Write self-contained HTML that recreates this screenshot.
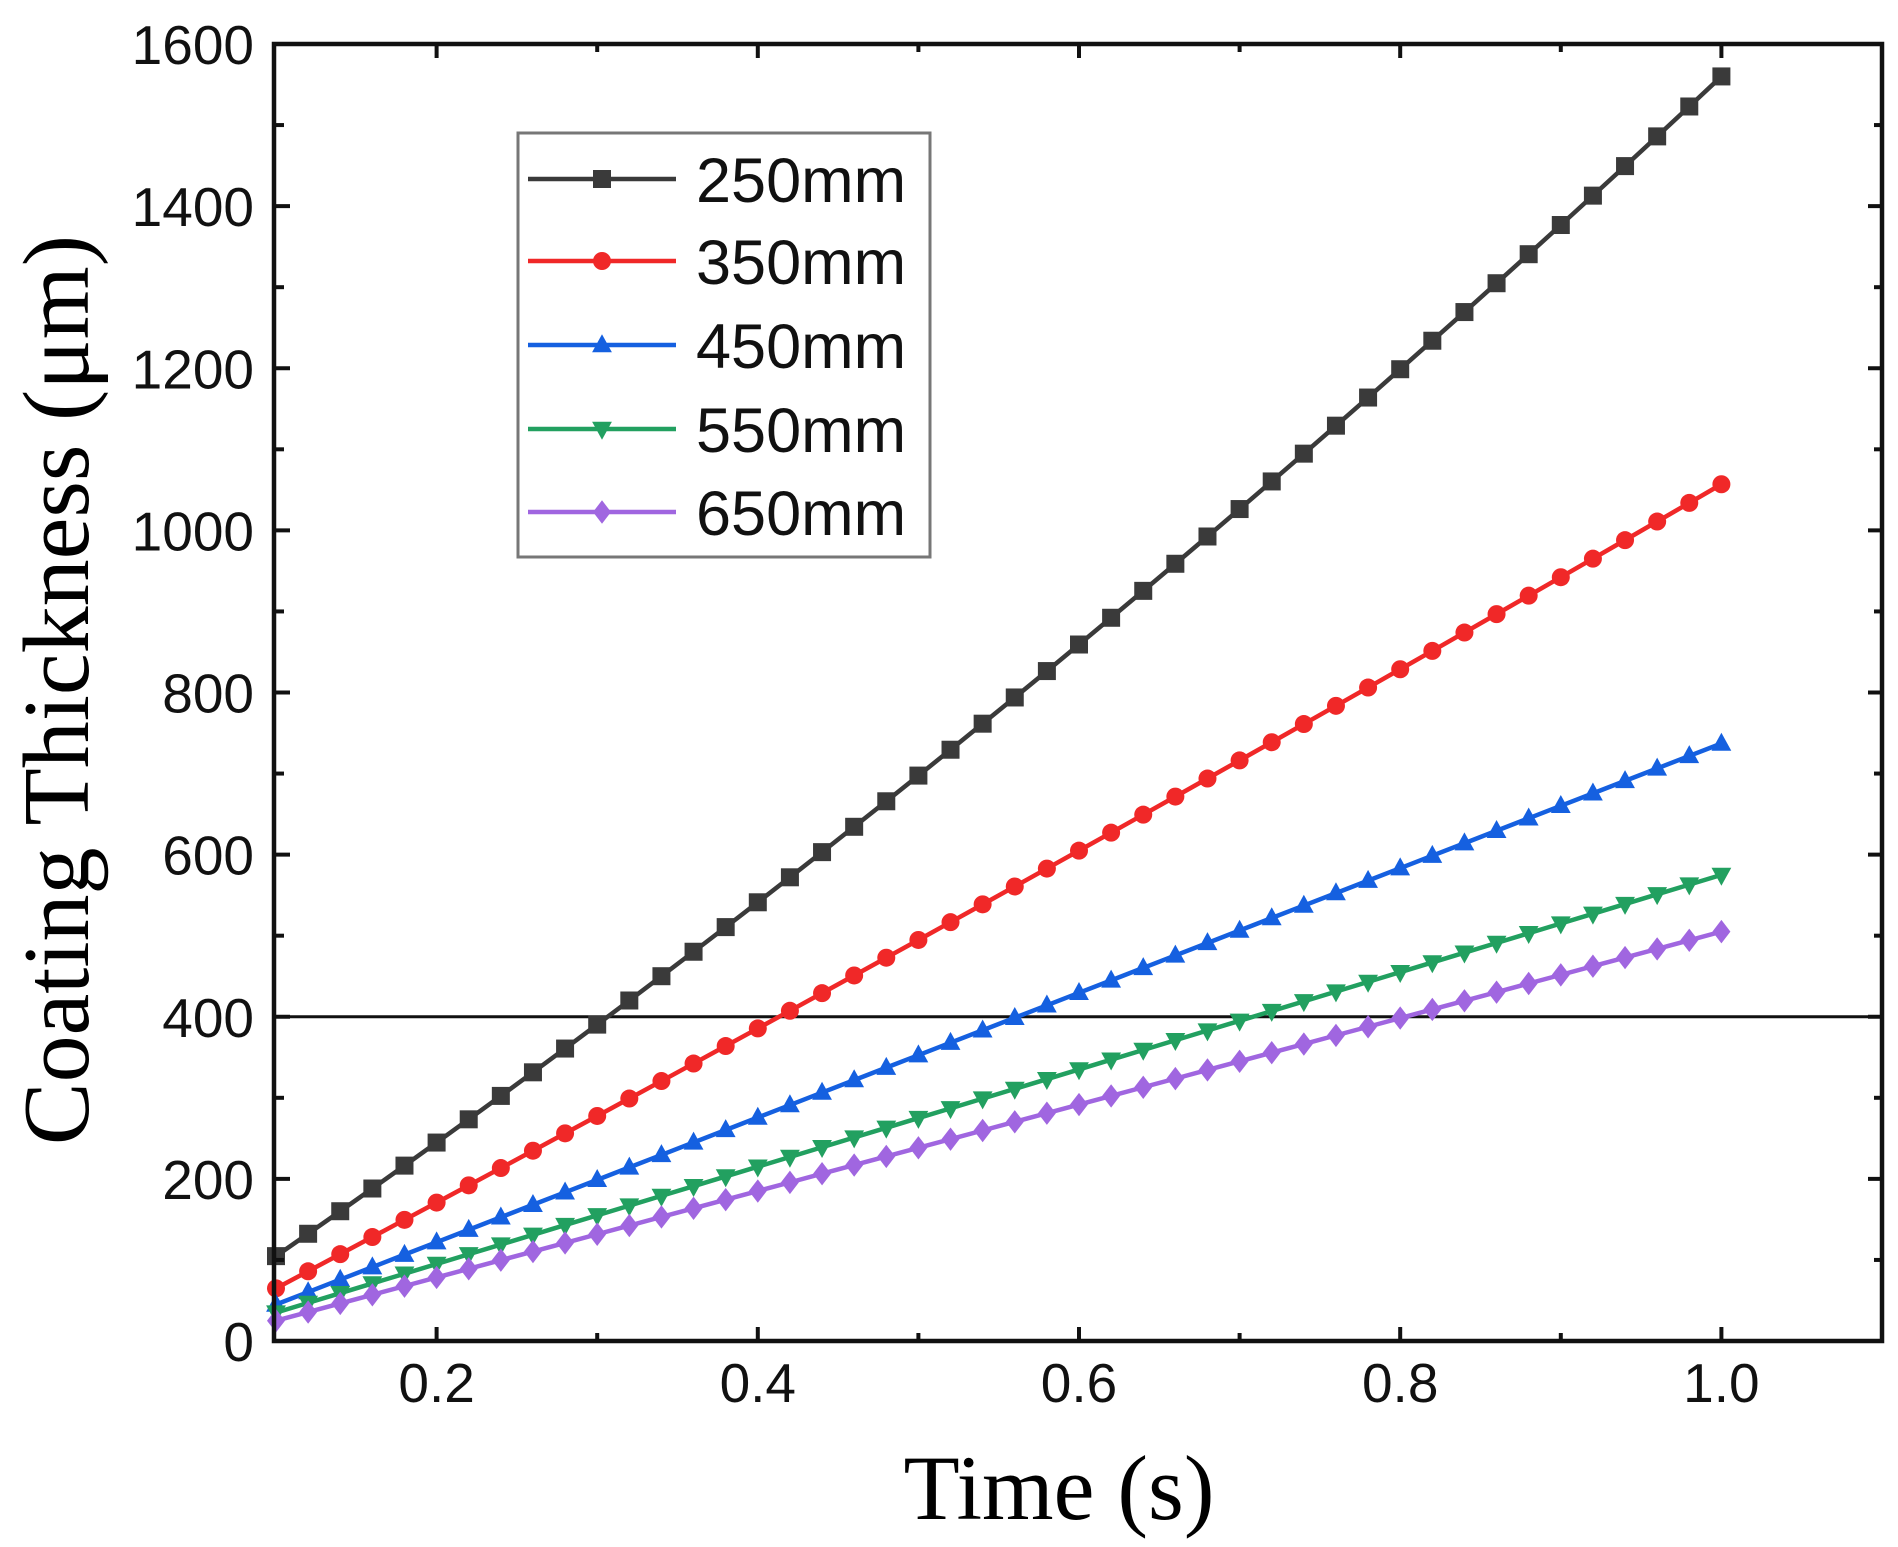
<!DOCTYPE html>
<html><head><meta charset="utf-8"><style>html,body{margin:0;padding:0;background:#fff;}svg{display:block}</style></head>
<body>
<svg id="s" width="1898" height="1547" xmlns="http://www.w3.org/2000/svg" font-family="Liberation Sans, sans-serif"></svg>
<script>
const s=document.getElementById('s');
const X0=276,X1=1882,Y0=1341,Y1=44;
const xp=t=>X0+(t-0.1)*(X1-X0)/1.0;
const yp=v=>Y0-v*(Y0-Y1)/1600;
let h='';
h+=`<line x1="${X0}" x2="${X1}" y1="${yp(400)}" y2="${yp(400)}" stroke="#111" stroke-width="3"/>`;
const series=[
 {c:'#3a3a3a',f:t=>-30+1320*t+270*t*t,m:'sq'},
 {c:'#f02828',f:t=>-39.7+1041*t+55.6*t*t,m:'ci'},
 {c:'#1560e0',f:t=>-31.9+769*t,m:'up'},
 {c:'#22a060',f:t=>-25+600*t,m:'dn'},
 {c:'#a066e0',f:t=>-28.3+533.3*t,m:'di'}];
function mk(m,x,y,c,r){
 if(m=='sq')return `<rect x="${x-r}" y="${y-r}" width="${2*r}" height="${2*r}" fill="${c}"/>`;
 if(m=='ci')return `<circle cx="${x}" cy="${y}" r="${r}" fill="${c}"/>`;
 if(m=='up')return `<polygon points="${x},${y-r*1.2} ${x-r*1.1},${y+r*0.8} ${x+r*1.1},${y+r*0.8}" fill="${c}"/>`;
 if(m=='dn')return `<polygon points="${x},${y+r*1.2} ${x-r*1.1},${y-r*0.8} ${x+r*1.1},${y-r*0.8}" fill="${c}"/>`;
 return `<polygon points="${x},${y-r*1.3} ${x+r},${y} ${x},${y+r*1.3} ${x-r},${y}" fill="${c}"/>`;
}
for(const S of series){
 let pts=[];for(let i=0;i<=45;i++){const t=0.1+i*0.02;pts.push([xp(t),yp(S.f(t))]);}
 h+=`<polyline fill="none" stroke="${S.c}" stroke-width="4.5" points="${pts.map(p=>p.join(',')).join(' ')}"/>`;
 for(const p of pts)h+=mk(S.m,p[0],p[1],S.c,9);
}
h+=`<rect x="${X0-2}" y="${Y1}" width="${X1-X0+2}" height="${Y0-Y1}" fill="none" stroke="#111" stroke-width="4.5"/>`;
for(let v=0;v<=1600;v+=100){const y=yp(v),L=v%200==0?14:8;
 h+=`<line x1="${X0}" x2="${X0+L}" y1="${y}" y2="${y}" stroke="#111" stroke-width="4"/><line x1="${X1}" x2="${X1-L}" y1="${y}" y2="${y}" stroke="#111" stroke-width="4"/>`;
 if(v%200==0)h+=`<text x="254" y="${y+20}" font-size="55" text-anchor="end" fill="#111">${v}</text>`;}
for(let i=1;i<=10;i++){const t=0.1*i+0.1;if(t>1.1)break;const x=xp(t),L=i%2==1?14:8;
 h+=`<line x1="${x}" x2="${x}" y1="${Y0}" y2="${Y0-L}" stroke="#111" stroke-width="4"/><line x1="${x}" x2="${x}" y1="${Y1}" y2="${Y1+L}" stroke="#111" stroke-width="4"/>`;
 if(i%2==1)h+=`<text x="${x}" y="1402" font-size="55" text-anchor="middle" fill="#111">${t.toFixed(1)}</text>`;}
h+=`<rect x="518" y="133" width="412" height="424" fill="#fff" stroke="#777" stroke-width="3"/>`;
const names=['250mm','350mm','450mm','550mm','650mm'],ly=[179,261,345,429,512];
series.forEach((S,i)=>{h+=`<line x1="528" x2="676" y1="${ly[i]}" y2="${ly[i]}" stroke="${S.c}" stroke-width="4.5"/>`+mk(S.m,602,ly[i],S.c,9)+`<text x="696" y="${ly[i]+23}" font-size="63" fill="#111">${names[i]}</text>`;});
h+=`<text x="1059" y="1519" font-size="92" text-anchor="middle" font-family="Liberation Serif, serif" fill="#000">Time (s)</text>`;
h+=`<text transform="translate(88,690) rotate(-90)" font-size="94" text-anchor="middle" font-family="Liberation Serif, serif" fill="#000">Coating Thickness (μm)</text>`;
s.innerHTML=h;
</script>
</body></html>
